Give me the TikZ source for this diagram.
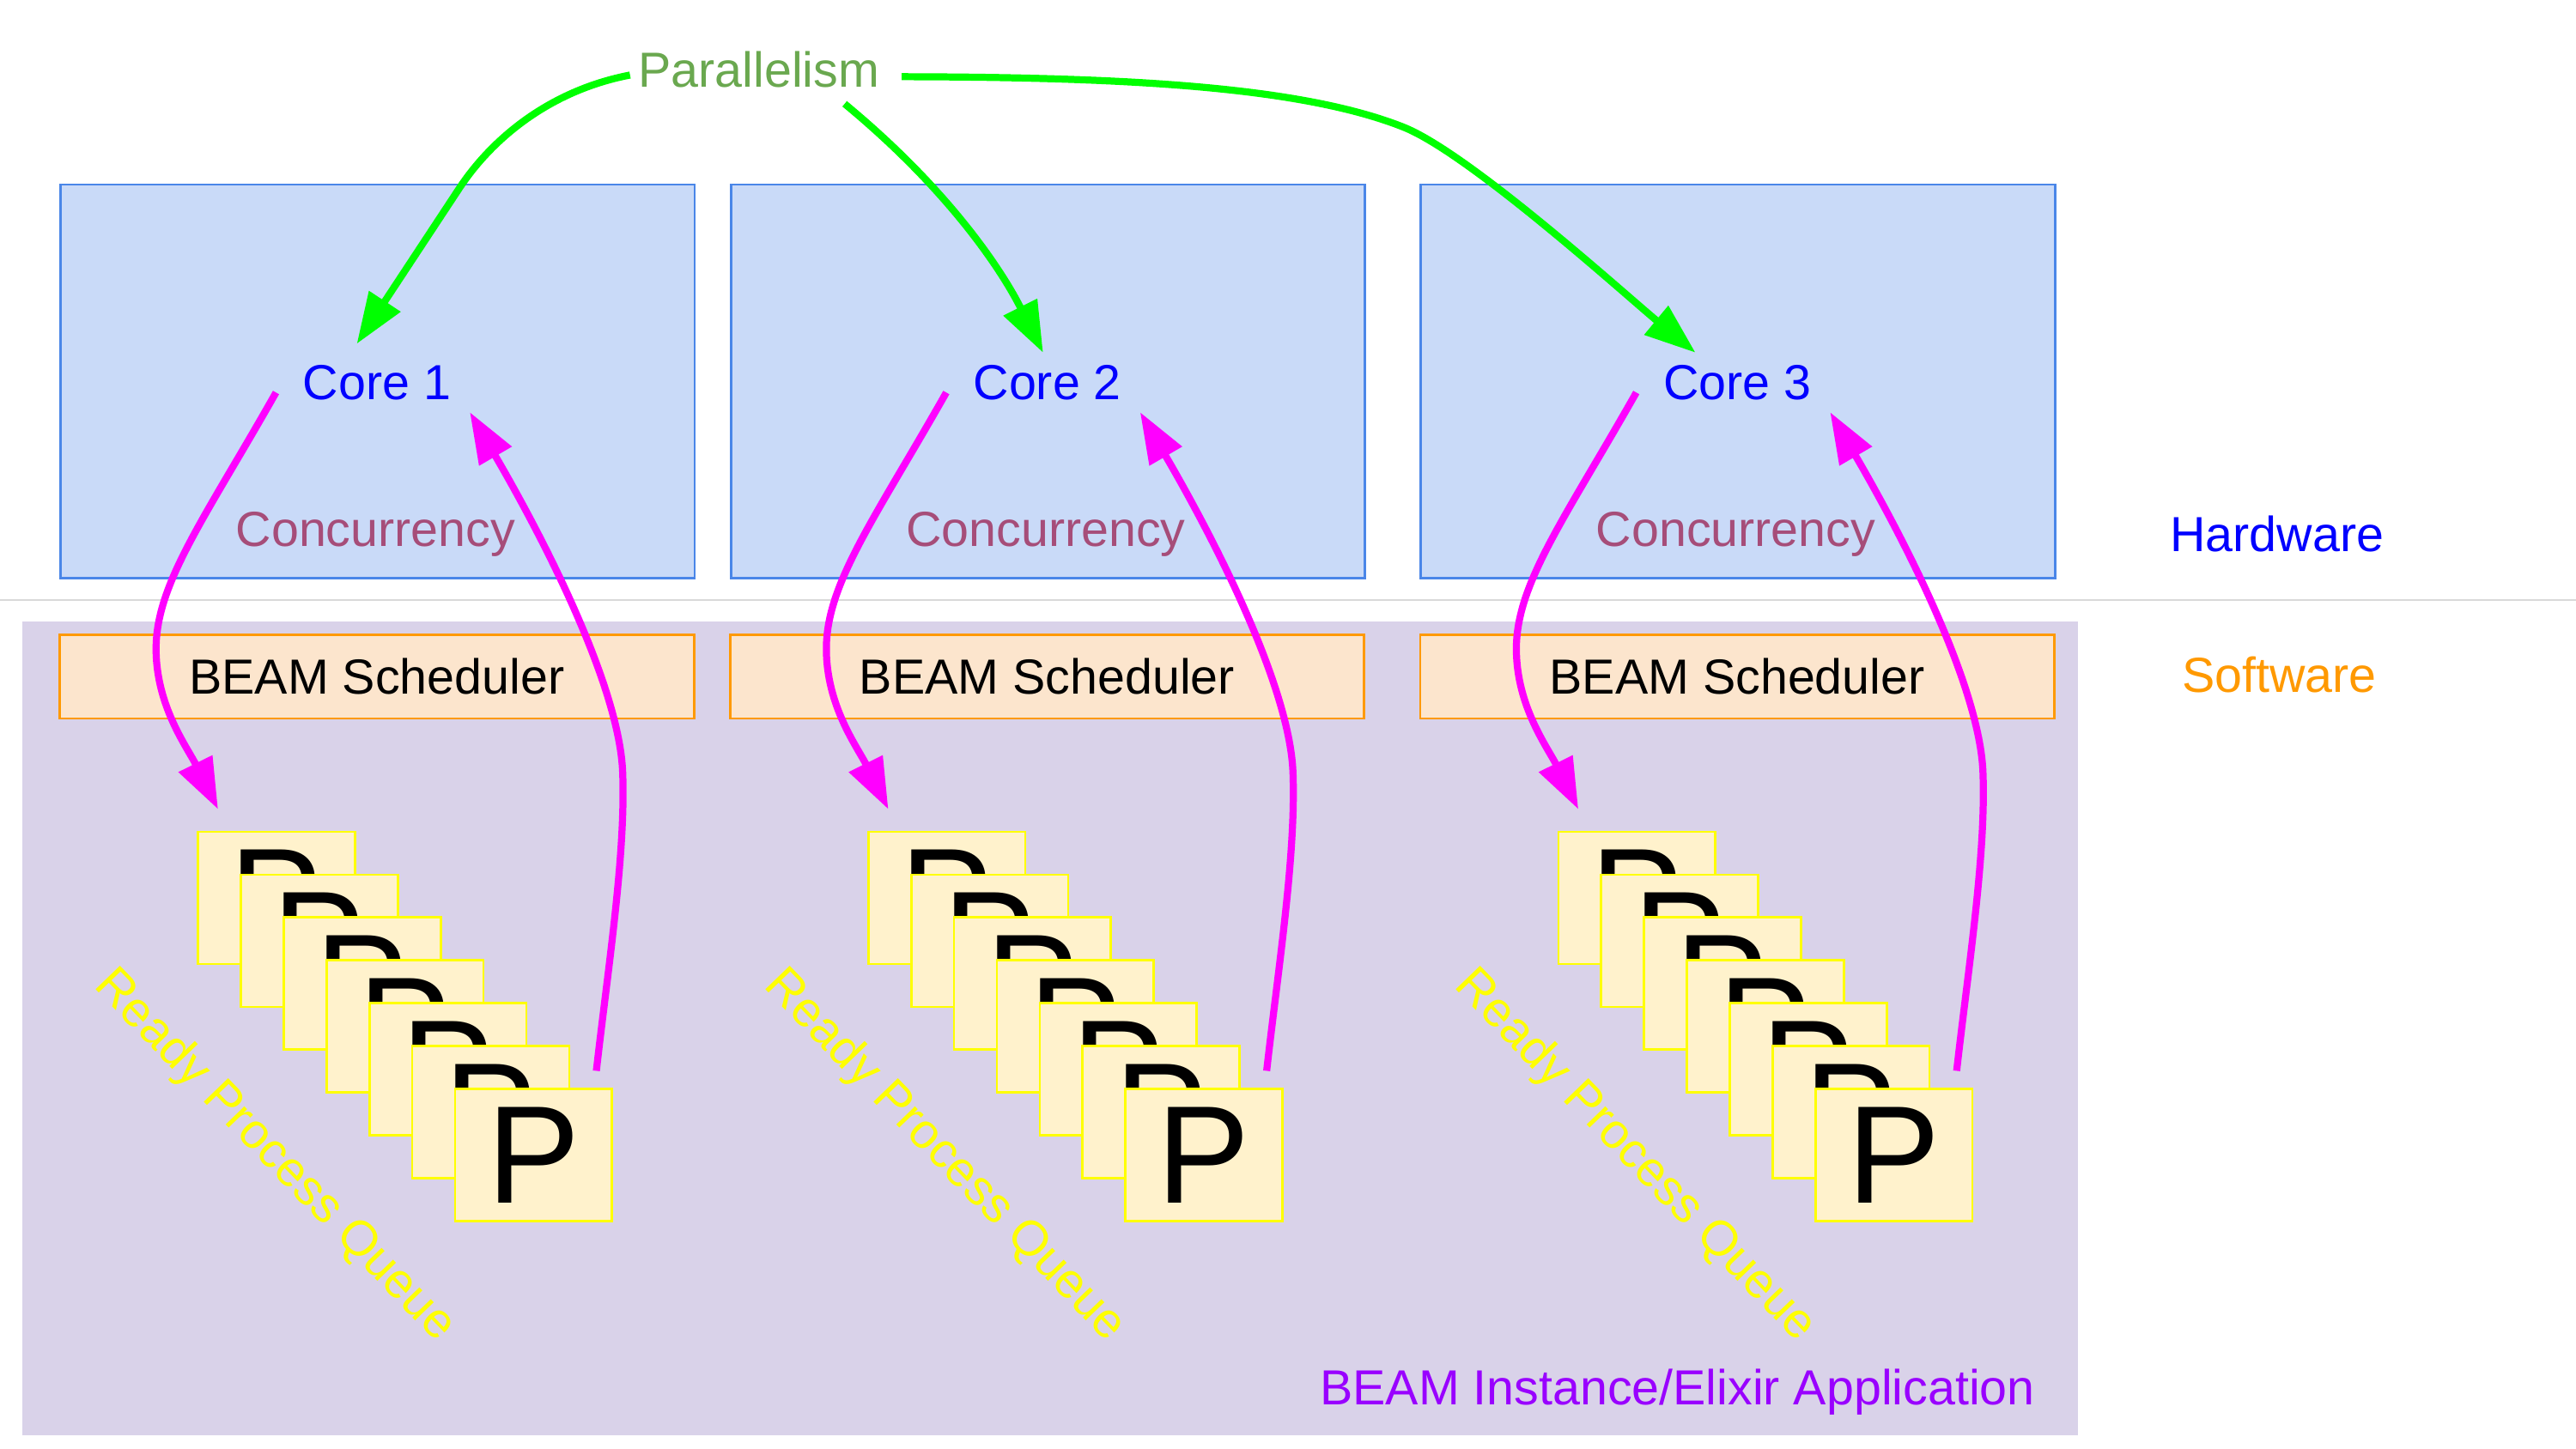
\documentclass[tikz,border=0pt]{standalone}
\usepackage{fontspec}
\setmainfont{Liberation Sans}
\usetikzlibrary{arrows.meta}
\definecolor{corefill}{HTML}{C9DAF8}
\definecolor{coredraw}{HTML}{4A86E8}
\definecolor{schedfill}{HTML}{FCE5CD}
\definecolor{orangeC}{HTML}{FF9900}
\definecolor{pfill}{HTML}{FFF2CC}
\definecolor{yellowC}{HTML}{FFFF00}
\definecolor{bgpurple}{HTML}{D9D2E9}
\definecolor{parC}{HTML}{6AA84F}
\definecolor{concC}{HTML}{A64D79}
\definecolor{appC}{HTML}{9900FF}
\definecolor{sepC}{HTML}{D9D9D9}
\definecolor{greenA}{HTML}{00FF00}
\definecolor{magA}{HTML}{FF00FF}
\definecolor{blueC}{HTML}{0000FF}
\begin{document}
\begin{tikzpicture}[x=1pt,y=-1pt,
  every node/.style={inner sep=0pt, outer sep=0pt, font=\fontsize{30}{36}\selectfont},
  corebox/.style={draw=coredraw, fill=corefill, line width=1.4pt, minimum width=386pt, minimum height=239.7pt},
  schedbox/.style={draw=orangeC, fill=schedfill, line width=1.4pt, minimum width=386pt, minimum height=51pt, text=black},
  pbox/.style={draw=yellowC, fill=pfill, line width=1.4pt, minimum width=95.5pt, minimum height=80.5pt, text=black, font=\fontsize{84.7}{100}\selectfont},
  corelabel/.style={text=blueC, anchor=base},
  conclabel/.style={text=concC, anchor=base},
  queuelabel/.style={text=yellowC, anchor=base west, rotate=-46},
  magarrow/.style={draw=magA, line width=4.3pt, -{Triangle[length=31pt,width=22pt]}},
  greenarrow/.style={draw=greenA, line width=4.3pt, -{Triangle[length=31pt,width=22pt]}}
]
\fill[white] (0,0) rectangle (1568,882.25);
\useasboundingbox (0,0) rectangle (1568,882.25);
% software background
\fill[bgpurple] (13.6,378.6) rectangle (1264.7,874);
% separator
\coordinate (sepL) at (0,365.3);
\coordinate (sepR) at (1568,365.3);
\draw[sepC, line width=1.3pt] (sepL) -- (sepR);

\foreach \g/\dx in {1/0,2/408,3/828}{
\begin{scope}[xshift=\dx pt]
  \node[corebox] (core\g) at (229.9,232.2) {};
  \node[corelabel] (corelabel\g) at (229.5,243.2) {Core \g};
  \node[conclabel] (conc\g) at (228.6,332.8) {Concurrency};
  \node[schedbox] (sched\g) at (229.4,411.9) {BEAM Scheduler};
  \foreach \i in {0,...,6}{
    \node[pbox] (p\g-\i) at (168.3+26.08*\i, 546.7+26.08*\i) {P};
  }
  \node[queuelabel] (queue\g) at (56.5,600.8) {Ready Process Queue};
  % scheduling arrows
  \coordinate (dstart\g) at (168,239);
  \coordinate (dmid\g) at (95,395);
  \coordinate (dend\g) at (132.7,492.7);
  \draw[magarrow] (dstart\g) .. controls (125,315) and (95,355) .. (dmid\g)
     .. controls (95,430) and (114,455) .. (dend\g);
  \coordinate (ustart\g) at (363,652);
  \coordinate (umid\g) at (379,470);
  \coordinate (uend\g) at (286,251);
  \draw[magarrow] (ustart\g) .. controls (370,590) and (381,520) .. (umid\g)
     .. controls (377,420) and (335,335) .. (uend\g);
\end{scope}
}

% labels
\node[text=parC, anchor=base] (par) at (461.9,53.3) {Parallelism};
\node[text=blueC, anchor=base] (hw) at (1386,336) {Hardware};
\node[text=orangeC, anchor=base] (sw) at (1387.4,421.5) {Software};
\node[text=appC, anchor=base] (app) at (1021,855.3) {BEAM Instance/Elixir Application};

% parallelism arrows
\coordinate (g1s) at (383.5,45.7);
\coordinate (g1m) at (280,114);
\coordinate (g1e) at (217.2,209.3);
\draw[greenarrow] (g1s) .. controls (335,55) and (300,84) .. (g1m) -- (g1e);
\coordinate (g2s) at (514.1,63.2);
\coordinate (g2e) at (634.9,214.7);
\draw[greenarrow] (g2s) .. controls (578,116) and (610,165) .. (g2e);
\coordinate (g3s) at (548.8,46.7);
\coordinate (g3m) at (854,77.3);
\coordinate (g3e) at (1032,214.7);
\draw[greenarrow] (g3s) .. controls (680,47) and (790,52) .. (g3m)
   .. controls (894,93) and (990,180) .. (g3e);
\end{tikzpicture}
\end{document}
